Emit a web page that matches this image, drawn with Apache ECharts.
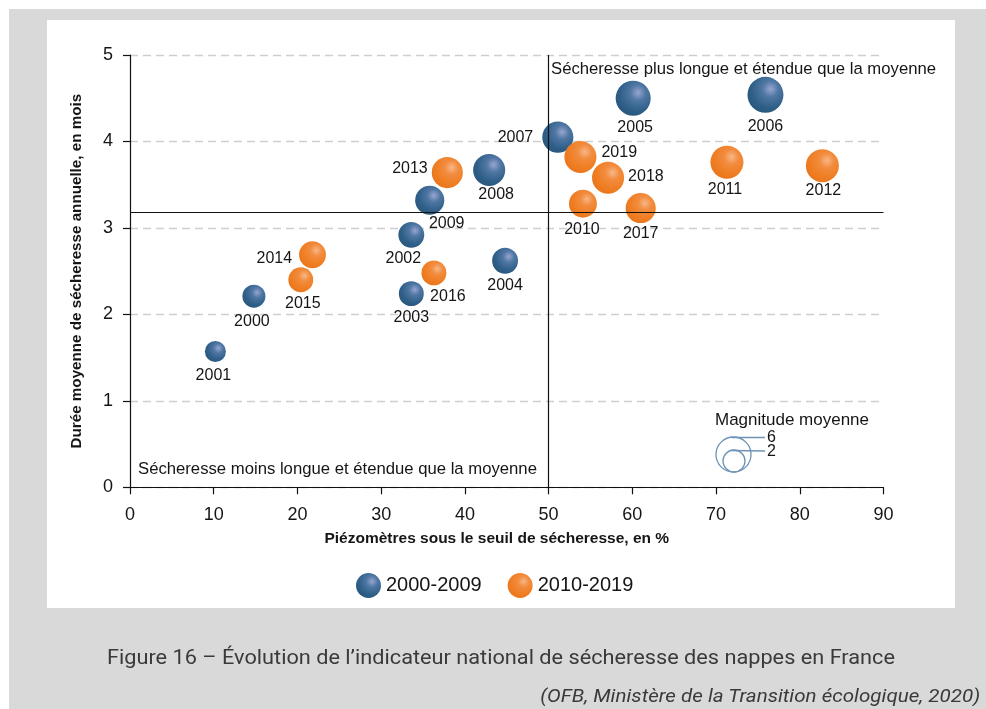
<!DOCTYPE html>
<html><head><meta charset="utf-8">
<script src="https://cdn.jsdelivr.net/npm/echarts@6.0.0/dist/echarts.min.js"></script>
<style>
html,body{margin:0;padding:0;width:986px;height:709px;background:#fff;overflow:hidden}
#frame{position:absolute;left:9px;top:9px;width:977px;height:700px;background:#d9d9d9}
#panel{position:absolute;left:47px;top:20px;width:908px;height:588px;background:#fff}
#chart{position:absolute;left:0;top:0;width:986px;height:709px}
.cap{position:absolute;white-space:nowrap;font-family:Roboto,sans-serif;color:#3a3a3a;transform-origin:0 50%}
#caption{left:107px;top:645px;font-size:21px;font-weight:400}
#source{top:684px;font-size:19px;font-style:italic;transform-origin:100% 50%}
</style></head>
<body>
<div id="frame"></div><div id="panel"></div>
<div id="chart"></div>
<div id="caption" class="cap">Figure 16 – Évolution de l’indicateur national de sécheresse des nappes en France</div>
<div id="source" class="cap">(OFB, Ministère de la Transition écologique, 2020)</div>
<script>
// ---- data ----
const years0009 = ['2000','2001','2002','2003','2004','2005','2006','2007','2008','2009'];
const x0009 = [14.8, 10.2, 33.6, 33.6, 44.8, 60.1, 75.9, 51.1, 42.9, 35.8];
const y0009 = [2.21, 1.57, 2.92, 2.24, 2.62, 4.50, 4.54, 4.05, 3.67, 3.32];
const mag0009 = [2.3, 1.7, 3.2, 2.9, 3.2, 6.0, 6.3, 4.8, 5.1, 4.2];

const years1019 = ['2010','2011','2012','2013','2014','2015','2016','2017','2018','2019'];
const x1019 = [54.1, 71.3, 82.7, 37.9, 21.8, 20.4, 36.3, 61.0, 57.1, 53.8];
const y1019 = [3.28, 3.76, 3.72, 3.64, 2.69, 2.40, 2.48, 3.23, 3.58, 3.82];
const mag1019 = [3.8, 5.4, 5.4, 4.8, 3.5, 2.9, 2.9, 4.5, 5.1, 5.1];

const seriesNames = ['2000-2009', '2010-2019'];
const refX = 50;      // seuil moyen piézomètres
const refY = 3.18;    // durée moyenne
const xTicks = [0, 90, 10];
const yTicks = [0, 5, 1];
const magLegend = [6, 2];

// ---- styles ----
const FONT = '"Liberation Sans", Arial, sans-serif';
const TXT = '#151515';
const sizeOf = m => 15.5 + 3.25 * m;
const labelLayout = {
  '2000':['bottom',4,-2,2], '2001':['bottom',4,-2,2], '2002':['bottom',4,-8,-1],
  '2003':['bottom',4,0,0], '2004':['bottom',4,0,0], '2005':['bottom',4,2,0],
  '2006':['bottom',4,0,2], '2007':['left',9,0,0], '2008':['bottom',4,7,-3],
  '2009':['bottom',4,17,-3], '2010':['bottom',4,-1,0], '2011':['bottom',4,-2,-1],
  '2012':['bottom',4,1,-4], '2013':['left',4,0,-4], '2014':['left',7,0,4],
  '2015':['bottom',4,2,-1], '2016':['bottom',4,14,-1], '2017':['bottom',4,0,-2],
  '2018':['right',4,0,-1], '2019':['right',5,0,-4]
};
const blueGrad = {type:'radial', x:0.64, y:0.34, r:0.75, colorStops:[
  {offset:0, color:'#98a6d0'},{offset:0.3, color:'#4f77a3'},{offset:0.7, color:'#2f5f88'},{offset:1, color:'#28557a'}]};
const orangeGrad = {type:'radial', x:0.64, y:0.34, r:0.75, colorStops:[
  {offset:0, color:'#f7b789'},{offset:0.3, color:'#f28c3e'},{offset:0.7, color:'#ef7d22'},{offset:1, color:'#e8741b'}]};

function build(years, xs, ys, mags) {
  return years.map((yr, i) => {
    const L = labelLayout[yr];
    return {
      value: [xs[i], ys[i], mags[i], yr],
      label: {position: L[0], distance: L[1], offset: [L[2], L[3]]}
    };
  });
}

const chart = echarts.init(document.getElementById('chart'), null, {renderer:'canvas'});

const labelCommon = {show:true, formatter: p => p.value[3], color: TXT, fontSize:16, fontFamily: FONT};

const option = {
  animation:false,
  grid:{left:130, right:102.5, top:55, bottom:221.7},
  xAxis:{type:'value', min:xTicks[0], max:xTicks[1], interval:xTicks[2],
    name:'Piézomètres sous le seuil de sécheresse, en %', nameLocation:'middle', nameGap:43,
    nameTextStyle:{fontSize:15.5, color:TXT, fontFamily:FONT, fontWeight:'bold', padding:[0,20,0,0]},
    axisLine:{lineStyle:{color:'#111', width:1.2}},
    axisTick:{show:true, length:7, lineStyle:{color:'#111', width:1.2}},
    axisLabel:{fontSize:18, color:TXT, fontFamily:FONT, margin:19},
    splitLine:{show:false}},
  yAxis:{type:'value', min:yTicks[0], max:yTicks[1], interval:yTicks[2],
    name:'Durée moyenne de sécheresse annuelle, en mois', nameLocation:'middle', nameGap:46,
    nameTextStyle:{fontSize:15.2, color:TXT, fontFamily:FONT, fontWeight:'bold'},
    axisLine:{show:true, lineStyle:{color:'#111', width:1.2}},
    axisTick:{show:true, length:7, lineStyle:{color:'#111', width:1.2}},
    axisLabel:{fontSize:18, color:TXT, fontFamily:FONT, margin:17},
    splitLine:{show:true, lineStyle:{color:'#cfcfcf', width:1.4, type:[8,5]}}},
  legend:{data:seriesNames, left:351, top:568, icon:'circle', itemWidth:25, itemHeight:25, itemGap:26,
    textStyle:{fontSize:20, color:TXT, fontFamily:FONT}},
  series:[
    {name:'ref', type:'scatter', data:[], z:1, silent:true,
      markLine:{silent:true, symbol:'none', label:{show:false},
        lineStyle:{color:'#111', width:1.2, type:'solid'},
        data:[{xAxis:refX}, {yAxis:refY}]}},
    {name:seriesNames[0], type:'scatter', z:3, data: build(years0009, x0009, y0009, mag0009),
      symbolSize: v => sizeOf(v[2]), itemStyle:{color: blueGrad, opacity:1}, label: labelCommon},
    {name:seriesNames[1], type:'scatter', z:3, data: build(years1019, x1019, y1019, mag1019),
      symbolSize: v => sizeOf(v[2]), itemStyle:{color: orangeGrad, opacity:1}, label: labelCommon}
  ]
};
chart.setOption(option);

// quadrant annotations + magnitude legend
const rBig = sizeOf(magLegend[0]) / 2, rSmall = sizeOf(magLegend[1]) / 2;
const legBottom = 472, legCx = 733.5, lineEnd = 765;
const circStroke = '#6e93b6';
const F = s => s + 'px ' + FONT;
chart.setOption({graphic:[
  {type:'text', x:551, y:69, style:{text:'Sécheresse plus longue et étendue que la moyenne', font:F(16.7), fill:TXT, verticalAlign:'middle'}},
  {type:'text', x:138, y:469, style:{text:'Sécheresse moins longue et étendue que la moyenne', font:F(16.7), fill:TXT, verticalAlign:'middle'}},
  {type:'text', x:792, y:420, style:{text:'Magnitude moyenne', font:F(17), fill:TXT, align:'center', verticalAlign:'middle'}},
  {type:'circle', shape:{cx:legCx, cy:legBottom - rBig, r:rBig}, style:{fill:'none', stroke:circStroke, lineWidth:1.3}},
  {type:'circle', shape:{cx:legCx + 0.5, cy:legBottom - rSmall, r:rSmall}, style:{fill:'none', stroke:circStroke, lineWidth:1.3}},
  {type:'line', shape:{x1:legCx - 2, y1:legBottom - 2*rBig + 0.5, x2:lineEnd, y2:legBottom - 2*rBig + 0.5}, style:{stroke:circStroke, lineWidth:1.3}},
  {type:'line', shape:{x1:legCx - 2, y1:legBottom - 2*rSmall + 0.5, x2:lineEnd, y2:legBottom - 2*rSmall + 1}, style:{stroke:circStroke, lineWidth:1.3}},
  {type:'text', x:767, y:legBottom - 2*rBig + 1, style:{text:String(magLegend[0]), font:F(16), fill:TXT, verticalAlign:'middle'}},
  {type:'text', x:767, y:legBottom - 2*rSmall + 2, style:{text:String(magLegend[1]), font:F(16), fill:TXT, verticalAlign:'middle'}}
]});

// fit caption widths
function fit(el, w, right) {
  const natural = el.getBoundingClientRect().width;
  const s = w / natural;
  if (right !== undefined) { el.style.left = (right - natural) + 'px'; }
  el.style.transform = 'scaleX(' + s + ')';
}
fit(document.getElementById('caption'), 788);
fit(document.getElementById('source'), 440, 980);
</script>
</body></html>
